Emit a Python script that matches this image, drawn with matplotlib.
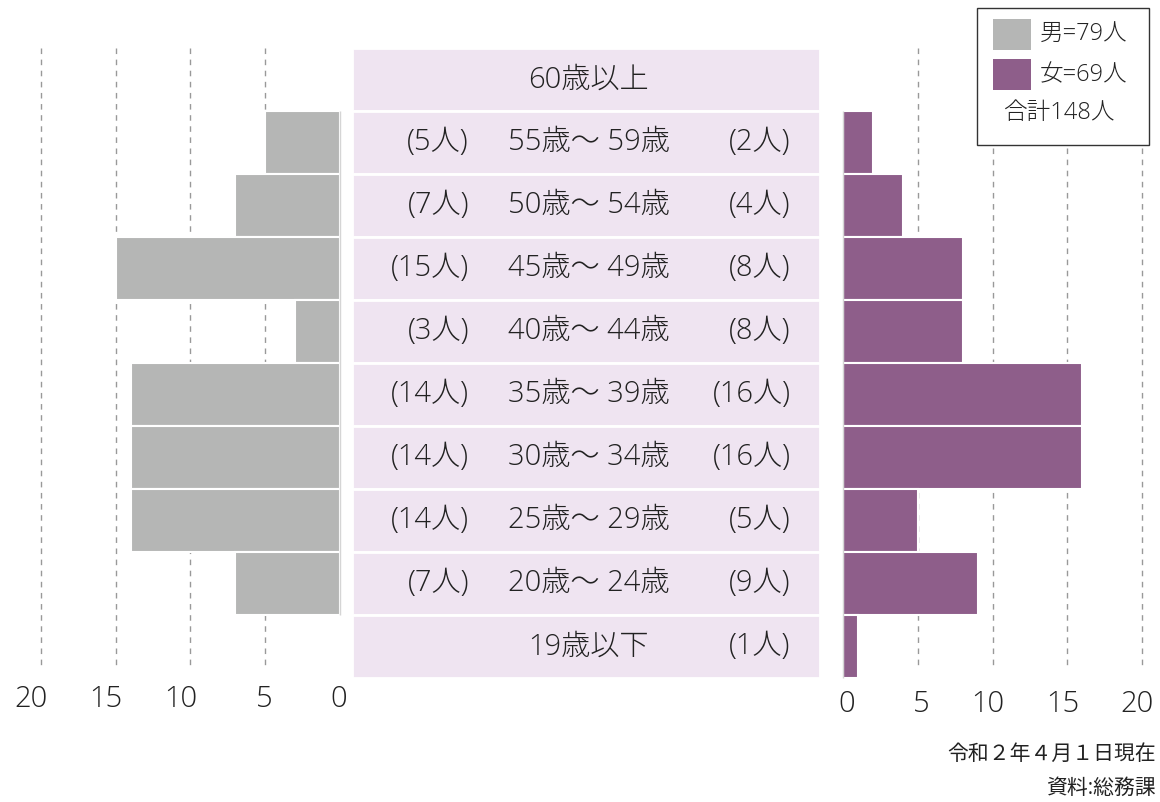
import matplotlib.pyplot as plt
from matplotlib.patches import Rectangle
from matplotlib.transforms import offset_copy

plt.rcParams['font.family'] = ['Open Sans', 'Noto Sans CJK JP', 'DejaVu Sans']

# 年齢階級（上から）
ages = ['60歳以上', '55歳〜 59歳', '50歳〜 54歳', '45歳〜 49歳', '40歳〜 44歳',
        '35歳〜 39歳', '30歳〜 34歳', '25歳〜 29歳', '20歳〜 24歳', '19歳以下']
male = [0, 5, 7, 15, 3, 14, 14, 14, 7, 0]
female = [0, 2, 4, 8, 8, 16, 16, 5, 9, 1]
ticks = [0, 5, 10, 15, 20]

gray = '#b5b6b5'
purple = '#8e5e8a'
band = '#efe4f1'
txt = '#222222'
W, H = 1160, 802


def box(x0, y0, x1, y1):
    # ピクセル座標 -> figure 座標
    return [x0 / W, 1 - y1 / H, (x1 - x0) / W, (y1 - y0) / H]


fig = plt.figure(figsize=(W / 100, H / 100), dpi=100)
top, bottom = 48, 678
n = len(ages)
ypos = list(range(n))

axL = fig.add_axes(box(41, top, 340, bottom))
axC = fig.add_axes(box(352, top, 820, bottom))
axR = fig.add_axes(box(843, top, 1142, bottom))

for ax in (axL, axC, axR):
    ax.set_ylim(n - 0.5, -0.5)
    ax.set_xticks([])
    ax.set_yticks([])
    for s in ax.spines.values():
        s.set_visible(False)
    ax.patch.set_visible(False)


def side(ax, vals, color, last, dx, ty):
    ax.vlines([5, 10, 15, 20], -0.5, 9.34, colors='#999999', linestyles=(0, (4, 4)),
              linewidth=1, clip_on=False, zorder=0)
    ax.barh(ypos, vals, height=1.0, color=color, edgecolor='white', linewidth=1.5, zorder=2)
    ax.vlines(0, 0.5, last, colors='#d5d5d5', linewidth=1, clip_on=False, zorder=3)
    tr = offset_copy(ax.get_xaxis_transform(), fig=fig, x=dx, y=0, units='dots')
    for t in ticks:
        ax.text(t, ty, str(t), transform=tr, ha='right', va='center',
                fontsize=21, color=txt, fontweight='light')


# 男性
axL.set_xlim(20, 0)
side(axL, male, gray, 8.5, 7, -(699 - bottom) / (bottom - top))

# 女性
axR.set_xlim(0, 20)
side(axR, female, purple, 9.5, 12, -(704 - bottom) / (bottom - top))

# 中央の年齢ラベル
axC.set_xlim(0, 1)
axC.barh(ypos, [1] * n, height=1.0, color=band, edgecolor='white', linewidth=2)
fs = 21
for i in range(n):
    axC.text(0.506, i, ages[i], ha='center', va='center', fontsize=fs, color=txt, fontweight='light')
    if male[i] > 0:
        axC.text(0.25, i, f'({male[i]}人)', ha='right', va='center', fontsize=fs, color=txt,
                 fontweight='light')
    if female[i] > 0:
        axC.text(0.937, i, f'({female[i]}人)', ha='right', va='center', fontsize=fs, color=txt,
                 fontweight='light')

# 凡例
fig.patches.append(Rectangle((977 / W, 1 - 145 / H), 172 / W, 137 / H, transform=fig.transFigure,
                             facecolor='white', edgecolor='#333333', linewidth=1))
fig.patches.append(Rectangle((993 / W, 1 - 50 / H), 38 / W, 31 / H, transform=fig.transFigure,
                             facecolor=gray, edgecolor='none'))
fig.patches.append(Rectangle((993 / W, 1 - 90 / H), 38 / W, 31 / H, transform=fig.transFigure,
                             facecolor=purple, edgecolor='none'))
fig.text(1040 / W, 1 - 35 / H, f'男={sum(male)}人', ha='left', va='center', fontsize=17, color=txt,
         fontweight='light')
fig.text(1040 / W, 1 - 75 / H, f'女={sum(female)}人', ha='left', va='center', fontsize=17, color=txt,
         fontweight='light')
fig.text(1059 / W, 1 - 113 / H, f'合計{sum(male) + sum(female)}人', ha='center', va='center',
         fontsize=17, color=txt, fontweight='light')

# 注記
fig.text(1156 / W, 1 - 754 / H, '令和２年４月１日現在', ha='right', va='center', fontsize=15, color=txt)
fig.text(1156 / W, 1 - 788 / H, '資料:総務課', ha='right', va='center', fontsize=15, color=txt)

fig.savefig('out.png', dpi=100)
